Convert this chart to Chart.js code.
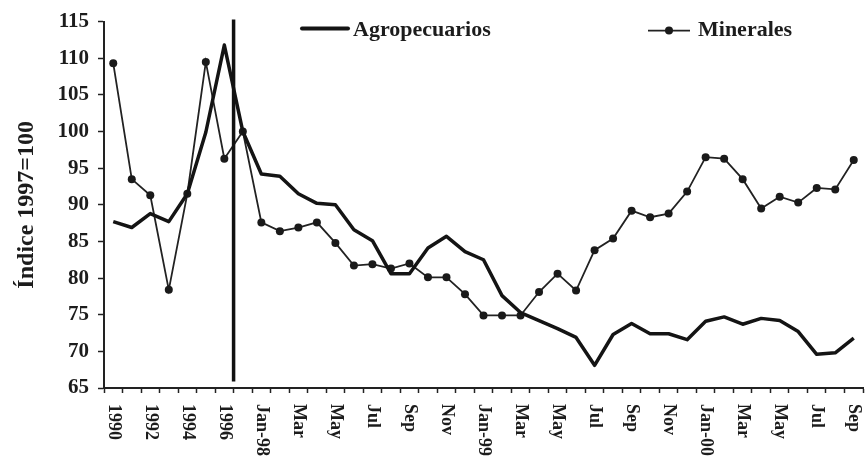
<!DOCTYPE html>
<html><head><meta charset="utf-8">
<script src="https://cdn.jsdelivr.net/npm/chart.js@4.4.0/dist/chart.umd.min.js"></script>
<style>html,body{margin:0;padding:0;background:#fff;}canvas{display:block;}</style>
</head><body>
<canvas id="c" width="867" height="458"></canvas>
<script>
// ---- data ----
const years = ['1990','1991','1992','1993','1994','1995','1996','1997'];
const months98 = ['Jan-98','Feb','Mar','Apr','May','Jun','Jul','Aug','Sep','Oct','Nov','Dec'];
const months99 = ['Jan-99','Feb','Mar','Apr','May','Jun','Jul','Aug','Sep','Oct','Nov','Dec'];
const months00 = ['Jan-00','Feb','Mar','Apr','May','Jun','Jul','Aug','Sep'];
const categories = [...years, ...months98, ...months99, ...months00];

const agropecuarios = [
  87.7, 86.9, 88.8, 87.7, 91.5, 99.9, 111.8, 100.0,
  94.2, 93.9, 91.5, 90.2, 90.0, 86.6, 85.1, 80.6, 80.6, 84.1, 85.7, 83.6,
  82.5, 77.6, 75.3, 74.2, 73.1, 71.9, 68.1, 72.3, 73.8, 72.4, 72.4, 71.6,
  74.1, 74.7, 73.7, 74.5, 74.2, 72.7, 69.6, 69.8, 71.8
];
const minerales = [
  109.3, 93.5, 91.3, 78.4, 91.5, 109.5, 96.3, 100.0,
  87.6, 86.4, 86.9, 87.6, 84.8, 81.7, 81.9, 81.3, 82.0, 80.1, 80.1, 77.8,
  74.9, 74.9, 74.9, 78.1, 80.6, 78.3, 83.8, 85.4, 89.2, 88.3, 88.8, 91.8,
  96.5, 96.3, 93.5, 89.5, 91.1, 90.3, 92.3, 92.1, 96.1
];
const seriesNames = ['Agropecuarios', 'Minerales'];
const yMin = 65, yMax = 115, yStep = 5;
const yTitle = 'Índice 1997=100';
const dividerIndex = 6.5;        // between 1996 and 1997
const dividerRange = [115.3, 65.9];

const FONT = "'Liberation Serif', 'Times New Roman', serif";
const INK = '#1c1c1c';
Chart.defaults.font.family = FONT;
Chart.defaults.color = INK;

const xLabelPlugin = {
  id: 'xLabels',
  afterDraw(chart) {
    const sx = chart.scales.x, ctx = chart.ctx;
    ctx.save();
    ctx.font = 'bold 18px ' + FONT;
    ctx.fillStyle = INK;
    ctx.textAlign = 'left';
    ctx.textBaseline = 'middle';
    categories.forEach((lab, i) => {
      if (i % 2) return;
      const x = sx.getPixelForValue(i);
      ctx.save();
      ctx.translate(x, sx.top + 16);
      ctx.rotate(Math.PI / 2);
      ctx.fillText(lab, 0, 0);
      ctx.restore();
    });
    ctx.restore();
  }
};

const dividerPlugin = {
  id: 'divider',
  afterDatasetsDraw(chart) {
    const sx = chart.scales.x, sy = chart.scales.y, ctx = chart.ctx;
    const x = sx.getPixelForValue(dividerIndex);
    ctx.save();
    ctx.strokeStyle = '#111';
    ctx.lineWidth = 3.5;
    ctx.beginPath();
    ctx.moveTo(x, sy.getPixelForValue(dividerRange[0]));
    ctx.lineTo(x, sy.getPixelForValue(dividerRange[1]));
    ctx.stroke();
    ctx.restore();
  }
};

const legendPlugin = {
  id: 'customLegend',
  afterDraw(chart) {
    const ctx = chart.ctx, a = chart.chartArea;
    const ds = chart.data.datasets;
    ctx.save();
    ctx.font = 'bold 22px ' + FONT;
    ctx.fillStyle = INK;
    ctx.textBaseline = 'middle';
    ctx.textAlign = 'left';
    // Agropecuarios
    let x0 = a.left + 198, y0 = a.top + 7;
    ctx.strokeStyle = ds[0].borderColor;
    ctx.lineWidth = ds[0].borderWidth + 0.5;
    ctx.lineCap = 'round';
    ctx.beginPath(); ctx.moveTo(x0, y0); ctx.lineTo(x0 + 46, y0); ctx.stroke();
    ctx.fillText(ds[0].label, x0 + 51, y0 + 2);
    // Minerales
    x0 = a.left + 544; y0 = a.top + 9;
    ctx.strokeStyle = ds[1].borderColor;
    ctx.lineWidth = ds[1].borderWidth;
    ctx.lineCap = 'butt';
    ctx.beginPath(); ctx.moveTo(x0, y0); ctx.lineTo(x0 + 42, y0); ctx.stroke();
    ctx.fillStyle = ds[1].pointBackgroundColor;
    ctx.beginPath(); ctx.arc(x0 + 21, y0, ds[1].pointRadius, 0, Math.PI * 2); ctx.fill();
    ctx.fillStyle = INK;
    ctx.fillText(ds[1].label, x0 + 50, y0);
    ctx.restore();
  }
};

new Chart(document.getElementById('c'), {
  type: 'line',
  data: {
    labels: categories,
    datasets: [
      { label: seriesNames[0], data: agropecuarios, borderColor: '#141414', borderWidth: 3.5,
        pointRadius: 0, tension: 0, borderJoinStyle: 'round', fill: false },
      { label: seriesNames[1], data: minerales, borderColor: '#222', borderWidth: 1.8,
        pointRadius: 4, pointBackgroundColor: '#1a1a1a', pointBorderWidth: 0, tension: 0, fill: false }
    ]
  },
  options: {
    responsive: false,
    animation: false,
    devicePixelRatio: 1,
    layout: { padding: { top: 18, right: 0, left: 0, bottom: 0 } },
    plugins: { legend: { display: false }, tooltip: { enabled: false } },
    scales: {
      x: {
        offset: true,
        ticks: { display: false },
        grid: { offset: true, drawOnChartArea: false, drawTicks: true, tickLength: 5, color: '#222', tickWidth: 1.5 },
        border: { display: true, color: '#222', width: 2 },
        afterFit(s) { s.height = 70; }
      },
      y: {
        min: yMin, max: yMax,
        ticks: { stepSize: yStep, font: { size: 21, weight: 'bold' }, color: INK, padding: 9 },
        grid: { drawOnChartArea: false, drawTicks: true, tickLength: 6, color: '#222', tickWidth: 1.5 },
        border: { display: true, color: '#222', width: 2 },
        title: { display: true, text: yTitle, font: { size: 24, weight: 'bold' }, color: INK, padding: 12 },
        afterFit(s) { s.width = 104; }
      }
    }
  },
  plugins: [xLabelPlugin, dividerPlugin, legendPlugin]
});
</script>
</body></html>
